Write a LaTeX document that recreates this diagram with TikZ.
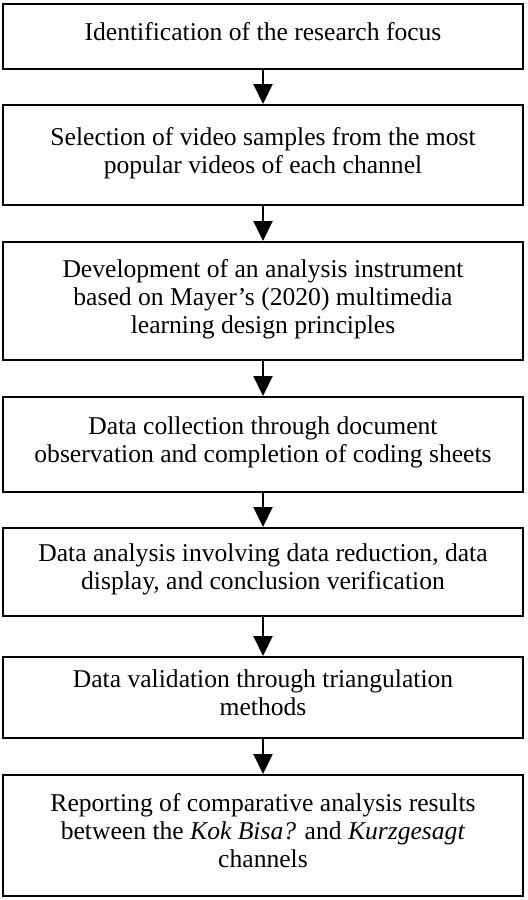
\documentclass[tikz,border=0pt]{standalone}
\usepackage{fontspec}
\setmainfont{Liberation Serif}
\usetikzlibrary{arrows.meta}
\begin{document}
\begin{tikzpicture}[x=0.5pt,y=-0.5pt,>={Triangle[width=9.5pt,length=10pt]},
    box/.style={draw,line width=1pt,minimum width=260pt,align=center,inner sep=0pt,
      text depth=5pt,font=\fontsize{12.8}{14}\selectfont}]
\useasboundingbox (0,0) rectangle (528,900);
\node[box,minimum height=32.5pt](focus) at (263,36.5){Identification of the research focus};
\node[box,minimum height=50pt](sample) at (263,155){Selection of video samples from the most\\popular videos of each channel};
\node[box,minimum height=59pt](instr) at (263,301){Development of an analysis instrument\\based on Mayer’s (2020) multimedia\\learning design principles};
\node[box,minimum height=47.5pt](collect) at (263,444.5){Data collection through document\\observation and completion of coding sheets};
\node[box,minimum height=44pt](analysis) at (263,572){Data analysis involving data reduction, data\\display, and conclusion verification};
\node[box,minimum height=40.5pt](valid) at (263,697.5){Data validation through triangulation\\methods};
\node[box,minimum height=60.5pt](report) at (263,835.5){Reporting of comparative analysis results\\between the \textit{Kok Bisa?} and \textit{Kurzgesagt}\\channels};
\draw[->,line width=1pt](focus)--(sample);
\draw[->,line width=1pt](sample)--(instr);
\draw[->,line width=1pt](instr)--(collect);
\draw[->,line width=1pt](collect)--(analysis);
\draw[->,line width=1pt](analysis)--(valid);
\draw[->,line width=1pt](valid)--(report);
\end{tikzpicture}
\end{document}
